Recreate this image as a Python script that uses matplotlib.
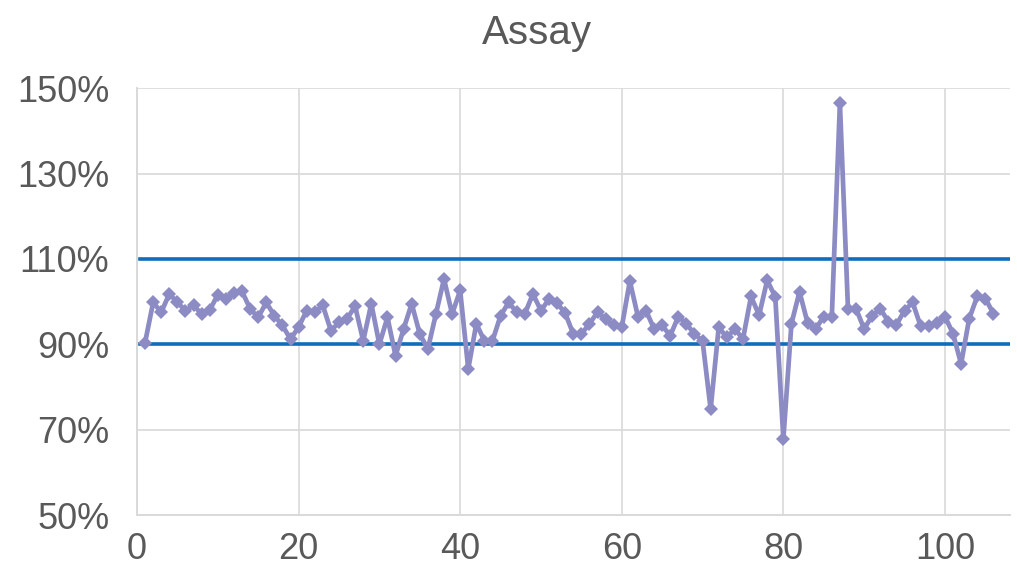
#!/usr/bin/env python3
"""Assay run chart: sample results against the 90% / 110% limits."""

import matplotlib
matplotlib.use("Agg")
import matplotlib.pyplot as plt
import matplotlib.ticker as ticker

# ---------------------------------------------------------------------------
# Data
# ---------------------------------------------------------------------------
ASSAY = [
    90.4, 99.8, 97.5, 101.8, 99.8, 97.9, 99.1, 97.1, 98.0, 101.6,
    100.6, 102.0, 102.4, 98.3, 96.3, 99.8, 96.7, 94.4, 91.2, 94.0,
    97.9, 97.5, 99.1, 93.2, 95.1, 96.0, 98.9, 90.8, 99.5, 90.0,
    96.3, 87.3, 93.6, 99.5, 92.4, 88.9, 97.1, 105.3, 97.1, 102.6,
    84.2, 94.8, 90.8, 90.8, 96.7, 99.8, 97.5, 97.1, 101.8, 97.9,
    100.6, 99.6, 97.3, 92.4, 92.4, 94.8, 97.5, 95.9, 94.4, 94.0,
    104.8, 96.5, 97.9, 93.6, 94.4, 92.0, 96.5, 94.8, 92.4, 90.8,
    74.8, 94.0, 91.6, 93.6, 91.2, 101.2, 96.8, 105.0, 101.1, 67.8,
    94.8, 102.3, 95.0, 93.6, 96.5, 96.5, 146.5, 98.3, 98.3, 93.6,
    96.7, 98.3, 95.3, 94.6, 97.9, 99.8, 94.2, 94.2, 95.0, 96.5,
    92.5, 85.4, 96.0, 101.2, 100.7, 97.2,
]
SAMPLE = list(range(1, len(ASSAY) + 1))
LIMITS = [110, 90]
LIMIT_SPAN = [0.4, 108]

X_TICKS = [0, 20, 40, 60, 80, 100]
Y_TICKS = [50, 70, 90, 110, 130, 150]

# ---------------------------------------------------------------------------
# Style
# ---------------------------------------------------------------------------
LINE_COLOR = "#8C8BC4"
LIMIT_COLOR = "#0F6DBB"
GRID_COLOR = "#D9D9D9"
TEXT_COLOR = "#595959"

plt.rcParams["font.family"] = ["Liberation Sans", "DejaVu Sans"]

fig = plt.figure(figsize=(10.17, 5.73), dpi=100)
ax = fig.add_axes([0.1347, 0.1012, 0.858, 0.745])

ax.plot(SAMPLE, ASSAY, color=LINE_COLOR, linewidth=3.4, marker="D",
        markersize=7.5, markeredgewidth=0, zorder=3)
for lim in LIMITS:
    ax.plot(LIMIT_SPAN, [lim, lim], color=LIMIT_COLOR, linewidth=2.6, zorder=2)

ax.set_xlim(0, 108)
ax.set_ylim(50, 150)
ax.set_xticks(X_TICKS)
ax.set_yticks(Y_TICKS)
ax.yaxis.set_major_formatter(ticker.FuncFormatter(lambda v, _: f"{v:.0f}%"))

ax.grid(True, color=GRID_COLOR, linewidth=1.2, zorder=0)
ax.set_axisbelow(True)
for side in ("top", "right"):
    ax.spines[side].set_visible(False)
for side in ("left", "bottom"):
    ax.spines[side].set_color(GRID_COLOR)
    ax.spines[side].set_linewidth(1.4)

ax.tick_params(axis="both", length=0, labelsize=26, colors=TEXT_COLOR)
ax.tick_params(axis="x", pad=12)
ax.tick_params(axis="y", pad=20)

fig.suptitle("Assay", fontsize=29, color=TEXT_COLOR, x=0.528, y=0.975)

fig.savefig("out.png", dpi=100)
